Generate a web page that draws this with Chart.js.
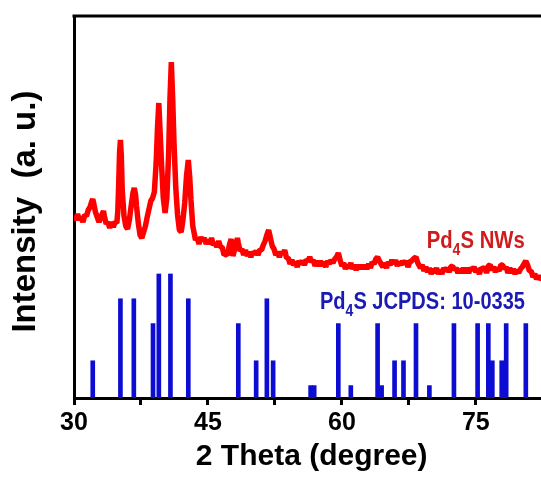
<!DOCTYPE html>
<html>
<head>
<meta charset="utf-8">
<script src="https://cdn.jsdelivr.net/npm/chart.js@4/dist/chart.umd.min.js"></script>
<style>
  html, body { margin: 0; padding: 0; background: #ffffff; }
  #wrap { width: 541px; height: 485px; position: relative; }
</style>
</head>
<body>
<div id="wrap"><canvas id="c" width="541" height="485"></canvas></div>
<script>
// ---- Measured XRD pattern of Pd4S nanowires: [2theta (deg), intensity (a.u.)] ----
const nwPattern = [
  [30.0,182],[30.2,178],[30.4,184],[30.6,178],[30.8,181],[31.0,176],[31.2,183],[31.4,182],
  [31.6,188],[31.8,191],[32.0,197],[32.1,199],[32.2,195],[32.4,186],[32.6,181],[32.8,176],
  [33.0,180],[33.2,185],[33.3,187],[33.4,182],[33.6,174],[33.8,176],[34.0,170],[34.2,176],
  [34.4,171],[34.6,176],[34.8,175],[34.9,186],[35.0,212],[35.1,245],[35.2,258],[35.3,242],
  [35.4,208],[35.6,182],[35.8,172],[36.0,169],[36.2,178],[36.4,192],[36.6,205],[36.75,210],
  [36.9,203],[37.0,192],[37.2,175],[37.4,163],[37.6,160],[37.8,166],[38.0,172],[38.2,181],
  [38.4,189],[38.6,197],[38.8,200],[38.9,203],[39.0,206],[39.2,235],[39.35,270],[39.5,295],
  [39.65,265],[39.8,235],[40.0,200],[40.2,185],[40.4,200],[40.6,245],[40.75,300],[40.9,336],
  [41.05,300],[41.2,255],[41.4,210],[41.6,183],[41.8,168],[42.0,166],[42.2,178],[42.4,195],
  [42.6,222],[42.8,238],[42.95,222],[43.1,198],[43.3,172],[43.5,163],[43.6,158],[43.8,160],
  [44.0,154],[44.2,161],[44.4,157],[44.6,160],[44.8,154],[45.0,158],[45.2,154],[45.4,160],
  [45.6,153],[45.8,155],[46.0,151],[46.2,157],[46.4,151],[46.6,151],[46.8,143],[47.0,144],
  [47.2,143],[47.4,153],[47.6,159],[47.8,142],[48.0,149],[48.2,156],[48.3,160],[48.4,155],
  [48.6,147],[48.8,149],[49.0,143],[49.2,148],[49.4,142],[49.6,146],[49.8,141],[50.0,146],
  [50.2,144],[50.4,147],[50.6,143],[50.8,148],[51.0,148],[51.2,153],[51.4,157],[51.6,163],
  [51.8,168],[52.0,160],[52.2,152],[52.4,149],[52.6,143],[52.8,146],[53.0,141],[53.2,146],
  [53.4,144],[53.6,148],[53.8,140],[54.0,140],[54.2,134],[54.4,138],[54.6,133],[54.8,136],
  [55.0,131],[55.2,137],[55.4,134],[55.6,137],[55.8,133],[56.0,138],[56.2,137],[56.4,141],
  [56.6,136],[56.8,138],[57.0,132],[57.2,137],[57.4,132],[57.6,137],[57.8,132],[58.0,136],
  [58.2,131],[58.4,137],[58.6,134],[58.8,138],[59.0,135],[59.2,139],[59.4,141],[59.6,145],
  [59.8,138],[60.0,132],[60.2,135],[60.4,129],[60.6,133],[60.8,130],[61.0,135],[61.2,129],
  [61.4,133],[61.6,128],[61.8,133],[62.0,129],[62.2,133],[62.4,129],[62.6,133],[62.8,129],
  [63.0,134],[63.2,130],[63.4,136],[63.6,134],[63.8,139],[64.0,141],[64.2,137],[64.4,134],
  [64.6,131],[64.8,135],[65.0,130],[65.2,136],[65.4,133],[65.6,138],[65.8,134],[66.0,138],
  [66.2,132],[66.4,136],[66.6,133],[66.8,137],[67.0,134],[67.2,137],[67.4,131],[67.6,136],
  [67.8,137],[68.0,139],[68.3,141],[68.5,135],[68.8,130],[69.0,133],[69.2,127],[69.4,131],
  [69.6,126],[69.8,130],[70.0,124],[70.2,129],[70.4,125],[70.6,130],[70.8,124],[71.0,128],
  [71.2,124],[71.4,130],[71.6,127],[71.8,130],[72.0,126],[72.2,131],[72.4,132],[72.6,128],
  [72.8,130],[73.0,125],[73.2,129],[73.4,125],[73.6,130],[73.8,125],[74.0,130],[74.2,125],
  [74.4,130],[74.6,128],[74.8,131],[75.0,126],[75.2,129],[75.4,124],[75.6,130],[75.8,129],
  [76.0,131],[76.2,125],[76.4,132],[76.6,133],[76.8,128],[77.0,131],[77.2,126],[77.4,130],
  [77.6,127],[77.8,133],[78.0,133],[78.2,129],[78.4,131],[78.6,125],[78.8,130],[79.0,125],
  [79.2,129],[79.4,124],[79.6,128],[79.8,125],[80.0,129],[80.2,131],[80.4,134],[80.6,137],
  [80.8,133],[81.0,127],[81.2,127],[81.4,121],[81.6,124],[81.8,119],[82.0,122],[82.2,119],
  [82.4,120]
];

// ---- Reference pattern JCPDS 10-0335 (stick positions and relative intensities) ----
const refAngles    = [32.1, 35.2, 36.7, 38.85, 39.5, 40.8, 42.8, 48.4, 50.4, 51.6, 52.3, 56.5, 56.9, 59.6,
                      61.0, 64.0, 64.45, 65.9, 66.9, 68.3, 69.8, 72.55, 75.2, 76.4, 76.85, 77.9, 78.4, 80.6];
const refIntensity = [30, 80, 80, 60, 100, 100, 80, 60, 30, 80, 30, 10, 10, 60,
                      10, 60, 10, 30, 30, 60, 10, 60, 60, 60, 30, 30, 60, 60];

// ---- Axis ticks ----
const xTickValues = [30, 37.5, 45, 52.5, 60, 67.5, 75];
const xTickLabels = ['30', '', '45', '', '60', '', '75'];

// ---- Texts ----
const xTitle = ' 2 Theta (degree)';
const yTitle = 'Intensity  (a. u.) ';
const sampleLabel = [['Pd', false], ['4', true], ['S NWs', false]];
const refLabel = [['Pd', false], ['4', true], ['S JCPDS: 10-0335', false]];

const FONT = "'Liberation Sans', Arial, Helvetica, sans-serif";

function drawSubText(ctx, parts, x, y, color, size, targetWidth) {
  ctx.save();
  const main = 'bold ' + size + 'px ' + FONT;
  const sub = 'bold ' + Math.round(size * 0.68) + 'px ' + FONT;
  let w = 0;
  parts.forEach(([t, s]) => { ctx.font = s ? sub : main; w += ctx.measureText(t).width; });
  const sx = targetWidth / w;
  ctx.translate(x, y);
  ctx.scale(sx, 1);
  ctx.fillStyle = color;
  ctx.textBaseline = 'alphabetic';
  ctx.textAlign = 'left';
  let cx = 0;
  parts.forEach(([t, s]) => {
    ctx.font = s ? sub : main;
    ctx.fillText(t, cx, s ? size * 0.3 : 0);
    cx += ctx.measureText(t).width;
  });
  ctx.restore();
}

const decor = {
  id: 'decor',
  afterDraw(chart) {
    const { ctx, chartArea } = chart;
    const xs = chart.scales.x, ys = chart.scales.y;
    ctx.save();
    ctx.strokeStyle = '#000';
    ctx.lineWidth = 3;
    ctx.beginPath();
    ctx.moveTo(chartArea.left - 1.5, chartArea.top);
    ctx.lineTo(chartArea.right, chartArea.top);
    ctx.stroke();
    ctx.restore();
    drawSubText(ctx, sampleLabel, xs.getPixelForValue(69.5), ys.getPixelForValue(150), '#d01c1c', 23, 98);
    drawSubText(ctx, refLabel, xs.getPixelForValue(57.55), ys.getPixelForValue(89), '#1a1ab4', 23, 205);
  }
};

new Chart(document.getElementById('c'), {
  type: 'bar',
  data: {
    datasets: [
      {
        type: 'line',
        label: 'Pd4S NWs',
        data: nwPattern.map(([x, y]) => ({ x, y })),
        borderColor: '#ff0000',
        borderWidth: 5.5,
        borderJoinStyle: 'bevel',
        borderCapStyle: 'butt',
        pointRadius: 0,
        tension: 0,
        fill: false,
        yAxisID: 'y',
        order: 1
      },
      {
        type: 'bar',
        label: 'Pd4S JCPDS: 10-0335',
        data: refAngles.map((a, i) => ({ x: a, y: refIntensity[i] })),
        backgroundColor: '#0c0cd2',
        borderWidth: 0,
        barThickness: 4,
        grouped: false,
        yAxisID: 'yRef',
        order: 2
      }
    ]
  },
  options: {
    responsive: false,
    animation: false,
    events: [],
    layout: { padding: { top: 16, left: 0, right: 0, bottom: 0 } },
    plugins: { legend: { display: false }, tooltip: { enabled: false } },
    scales: {
      x: {
        type: 'linear',
        min: 30,
        max: 82.3,
        offset: false,
        afterFit: (s) => { s.height = 87; },
        afterBuildTicks: (s) => { s.ticks = xTickValues.map(v => ({ value: v })); },
        grid: { display: true, drawOnChartArea: false, drawTicks: true, tickLength: 7, tickWidth: 3, tickColor: '#000', offset: false },
        border: { display: true, color: '#000', width: 3 },
        ticks: {
          autoSkip: false,
          maxRotation: 0,
          padding: 3,
          color: '#000',
          font: { family: FONT, size: 25, weight: 'bold' },
          callback: (v) => { const i = xTickValues.indexOf(v); return i >= 0 ? xTickLabels[i] : ''; }
        },
        title: {
          display: true,
          text: xTitle,
          color: '#000',
          font: { family: FONT, size: 30, weight: 'bold' },
          padding: { top: 0, bottom: 10 }
        }
      },
      y: {
        type: 'linear',
        position: 'left',
        min: 0,
        max: 382,
        afterFit: (s) => { s.width = 74; },
        grid: { display: true, drawOnChartArea: false, drawTicks: false },
        border: { display: true, color: '#000', width: 3 },
        ticks: { display: false },
        title: {
          display: true,
          text: yTitle,
          color: '#000',
          font: { family: FONT, size: 33, weight: 'bold' },
          padding: { top: 6, bottom: 0 }
        }
      },
      yRef: {
        type: 'linear',
        display: false,
        min: 0,
        max: 308
      }
    }
  },
  plugins: [decor]
});
</script>
</body>
</html>
